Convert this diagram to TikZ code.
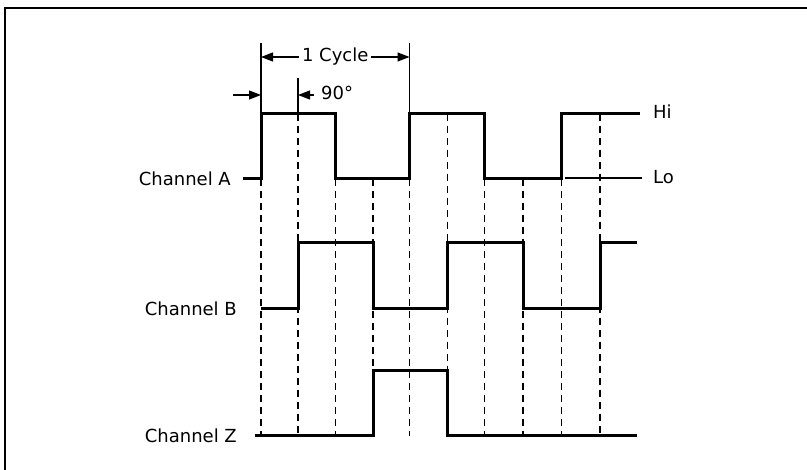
\documentclass[tikz,border=0pt]{standalone}
\usepackage{fontspec}
\setmainfont{DejaVu Sans}
\usetikzlibrary{arrows.meta}
\begin{document}
\begin{tikzpicture}[x=1pt, y=-1pt, line join=miter, >={Triangle[length=12pt,width=9pt]},
		font=\fontsize{18}{21}\selectfont,
		signal/.style={line width=3pt},
		guide/.style={line width=1.1pt, dash pattern=on 7pt off 5pt},
		tick/.style={line width=1.2pt},
		lbl/.style={inner sep=0pt}]
				\def\hiA{114} \def\loA{179}
				\def\hiB{243} \def\loB{309}
				\def\hiZ{371} \def\loZ{436}
				\useasboundingbox (0,0) rectangle (807,470);
				% frame
				\draw[line width=2.5pt] (5,470)--(5,8)--(807,8);
				% guide lines
				\foreach \gx in {261,335.5,373,409.5,484.5,523,561.5}
					\draw[guide] (\gx,\loA)--(\gx,\loZ);
				\foreach \gx in {298,447.5,600}
					\draw[guide] (\gx,\hiA)--(\gx,\loZ);
				% signals
				\draw[signal] (243,\loA)--(261,\loA)--(261,\hiA)--(335.5,\hiA)--(335.5,\loA)--(409.5,\loA)--(409.5,\hiA)--(484.5,\hiA)--(484.5,\loA)--(561.5,\loA)--(561.5,\hiA)--(640,\hiA);
				\draw[signal] (261,\loB)--(298,\loB)--(298,\hiB)--(373,\hiB)--(373,\loB)--(447.5,\loB)--(447.5,\hiB)--(523,\hiB)--(523,\loB)--(600,\loB)--(600,\hiB)--(637,\hiB);
				\draw[signal] (255,\loZ)--(373,\loZ)--(373,\hiZ)--(447.5,\hiZ)--(447.5,\loZ)--(637,\loZ);
				\draw[tick] (565,178)--(642,178);
				% labels
				\node[lbl, anchor=east] (chA) at (231,\loA) {Channel A};
				\node[lbl, anchor=east] (chB) at (237,\loB) {Channel B};
				\node[lbl, anchor=east] (chZ) at (237,\loZ) {Channel Z};
				\node[lbl, anchor=west] (hi) at (653,112) {Hi};
				\node[lbl, anchor=west] (lo) at (653,177) {Lo};
				% cycle and phase
				\draw[tick] (261,43)--(261,\hiA);
				\draw[tick] (409.5,43)--(409.5,\hiA);
				\draw[tick] (298,78)--(298,\hiA);
				\draw[tick, <->] (261,57)--(409.5,57) node[midway, fill=white, inner xsep=3pt, inner ysep=1pt] (cyc) {1 Cycle};
				\draw[tick, ->] (233,95)--(261,95);
				\draw[tick, ->] (314,95)--(298,95);
				\node[lbl, anchor=west] (deg) at (321,93) {90°};
			\end{tikzpicture}
\end{document}
